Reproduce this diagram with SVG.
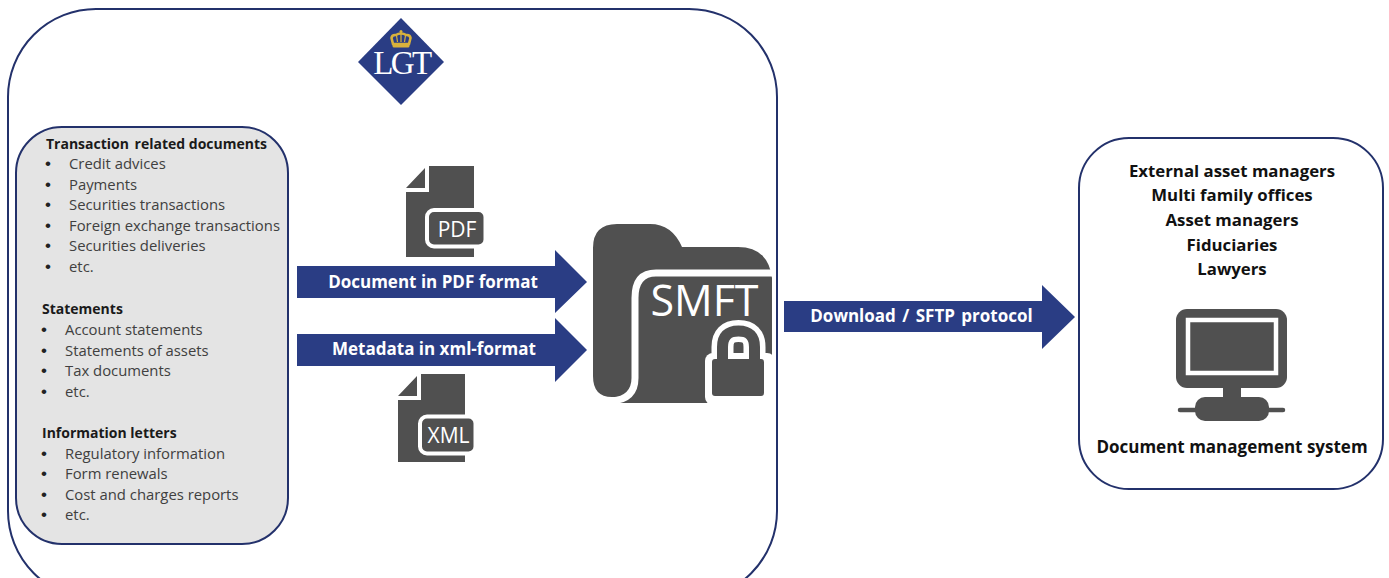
<svg xmlns="http://www.w3.org/2000/svg" width="1389" height="578" viewBox="0 0 1389 578">
<style>
text{font-family:"Open Sans","Noto Sans","Liberation Sans",sans-serif}
.box{stroke:#23316b;stroke-width:2}
.l{font-size:14.85px;fill:#404040}
.b{font-size:17px;fill:#222;font-family:"Liberation Sans",sans-serif}
.h{font-size:14px;font-weight:700;fill:#1a1a1a}
.r{font-size:16.8px;font-weight:700;fill:#111;text-anchor:middle}
.a{font-size:17px;font-weight:700;fill:#fff;text-anchor:middle}
.arrow{fill:#2a3d84}
.ic{fill:#505050}
.w{fill:#fff}
.it{fill:#fff;font-size:21px;text-anchor:middle}
</style>
<rect width="1389" height="578" fill="#fff"/>
<g id="platform"><rect class="box" x="8" y="9" width="769" height="590" rx="88" ry="88" fill="#fff"/></g>
<g id="logo">
<path d="M401 18L444 62L401 105L358 62Z" fill="#2a3d84"/>
<path d="M393 44L391.500 38Q392 34.500 396 35Q398 33.500 401 33.500Q404 33.500 406 35Q410 34.500 410.500 38L409 44Z" fill="none" stroke="#d9b23c" stroke-width="2.6"/>
<path d="M401 34V42M396.500 35.500L397.500 42M405.500 35.500L404.500 42" stroke="#d9b23c" stroke-width="1.200" fill="none"/>
<rect x="392.500" y="44" width="17" height="3.500" rx="1.500" fill="#d9b23c"/>
<circle cx="401" cy="31.500" r="1.500" fill="#d9b23c"/>
<text x="401.500" y="74" text-anchor="middle" style="font-family:'Liberation Serif',serif;font-size:33px;fill:#fff;letter-spacing:-2.600px">LGT</text>
</g>
<g id="documents">
<rect class="box" x="16" y="127" width="272" height="417" rx="46" ry="46" fill="#e4e4e4"/>
<text class="h" x="46" y="149">Transaction <tspan dx="2">related documents</tspan></text>
<text class="b" x="45" y="169">•</text><text class="l" x="69" y="169">Credit advices</text>
<text class="b" x="45" y="190">•</text><text class="l" x="69" y="190">Payments</text>
<text class="b" x="45" y="210">•</text><text class="l" x="69" y="210">Securities transactions</text>
<text class="b" x="45" y="231">•</text><text class="l" x="69" y="231">Foreign exchange transactions</text>
<text class="b" x="45" y="251">•</text><text class="l" x="69" y="251">Securities deliveries</text>
<text class="b" x="45" y="272">•</text><text class="l" x="69" y="272">etc.</text>
<text class="h" x="42" y="314">Statements</text>
<text class="b" x="41" y="335">•</text><text class="l" x="65" y="335">Account statements</text>
<text class="b" x="41" y="356">•</text><text class="l" x="65" y="356">Statements of assets</text>
<text class="b" x="41" y="376">•</text><text class="l" x="65" y="376">Tax documents</text>
<text class="b" x="41" y="397">•</text><text class="l" x="65" y="397">etc.</text>
<text class="h" x="42" y="438">Information letters</text>
<text class="b" x="41" y="459">•</text><text class="l" x="65" y="459">Regulatory information</text>
<text class="b" x="41" y="479">•</text><text class="l" x="65" y="479">Form renewals</text>
<text class="b" x="41" y="500">•</text><text class="l" x="65" y="500">Cost and charges reports</text>
<text class="b" x="41" y="520">•</text><text class="l" x="65" y="520">etc.</text>
</g>
<g id="pdf-icon">
<path class="ic" d="M406 188L425 168V188ZM429 166H474V257H406V192H429Z"/>
<rect class="ic" x="427" y="210" width="58.500" height="36.500" rx="7" stroke="#fff" stroke-width="4"/>
<text class="it" x="457" y="237">PDF</text>
</g>
<g id="xml-icon">
<path class="ic" d="M398 396L417 376V396ZM421 374H465V462H398V400H421Z"/>
<rect class="ic" x="420" y="416.500" width="55.500" height="37" rx="7" stroke="#fff" stroke-width="4"/>
<text class="it" x="448.500" y="443">XML</text>
</g>
<g id="connectors">
<path class="arrow" d="M297 266H555V250L587 282L555 313V298H297Z"/>
<path class="arrow" d="M297 334H555V318L587 350L555 382V366H297Z"/>
<path class="arrow" d="M784 301H1042V285L1075 317L1042 349V332H784Z"/>
<text class="a" x="433" y="288">Document in PDF format</text>
<text class="a" x="434" y="355">Metadata in xml-format</text>
<text class="a" x="921.500" y="322" style="word-spacing:2px">Download / SFTP protocol</text>
</g>
<g id="smft">
<path class="ic" d="M593 248Q593 224 617 224H650Q672 224 682 247H738Q768 247 772 278V403H615V397H612Q593 397 593 376Z"/>
<path d="M772 273H656Q635 273 635 298V378Q635 399 612 401" fill="none" stroke="#fff" stroke-width="7"/>
<path d="M612 401H592V406H612Z" class="w"/>
<rect class="w" x="705" y="353" width="70" height="52" rx="8"/>
<path d="M722.500 362V347Q722.500 331 738.500 331Q754.500 331 754.500 347V362" fill="none" stroke="#fff" stroke-width="22"/>
<path d="M722.500 362V347Q722.500 331 738.500 331Q754.500 331 754.500 347V362" fill="none" stroke="#505050" stroke-width="11"/>
<rect class="ic" x="712" y="359" width="52" height="37" rx="3"/>
<text x="704.500" y="316" text-anchor="middle" style="font-size:43px;fill:#fff">SMFT</text>
</g>
<g id="clients">
<rect class="box" x="1079" y="138" width="304" height="351" rx="50" ry="50" fill="#fff"/>
<text class="r" x="1232" y="177">External asset managers</text>
<text class="r" x="1232" y="201">Multi family offices</text>
<text class="r" x="1232" y="226">Asset managers</text>
<text class="r" x="1232" y="251">Fiduciaries</text>
<text class="r" x="1232" y="275">Lawyers</text>
<rect class="ic" x="1176" y="309" width="111" height="79" rx="11"/>
<rect class="ic" x="1188" y="320" width="88" height="53" stroke="#fff" stroke-width="4.500"/>
<rect class="ic" x="1223" y="387" width="18" height="12"/>
<path d="M1180 410H1283" stroke="#505050" stroke-width="4.500" stroke-linecap="round"/>
<rect class="ic" x="1195" y="397" width="74" height="24" rx="10"/>
<text class="r" x="1232" y="453" style="font-size:17px">Document management system</text>
</g>
</svg>
